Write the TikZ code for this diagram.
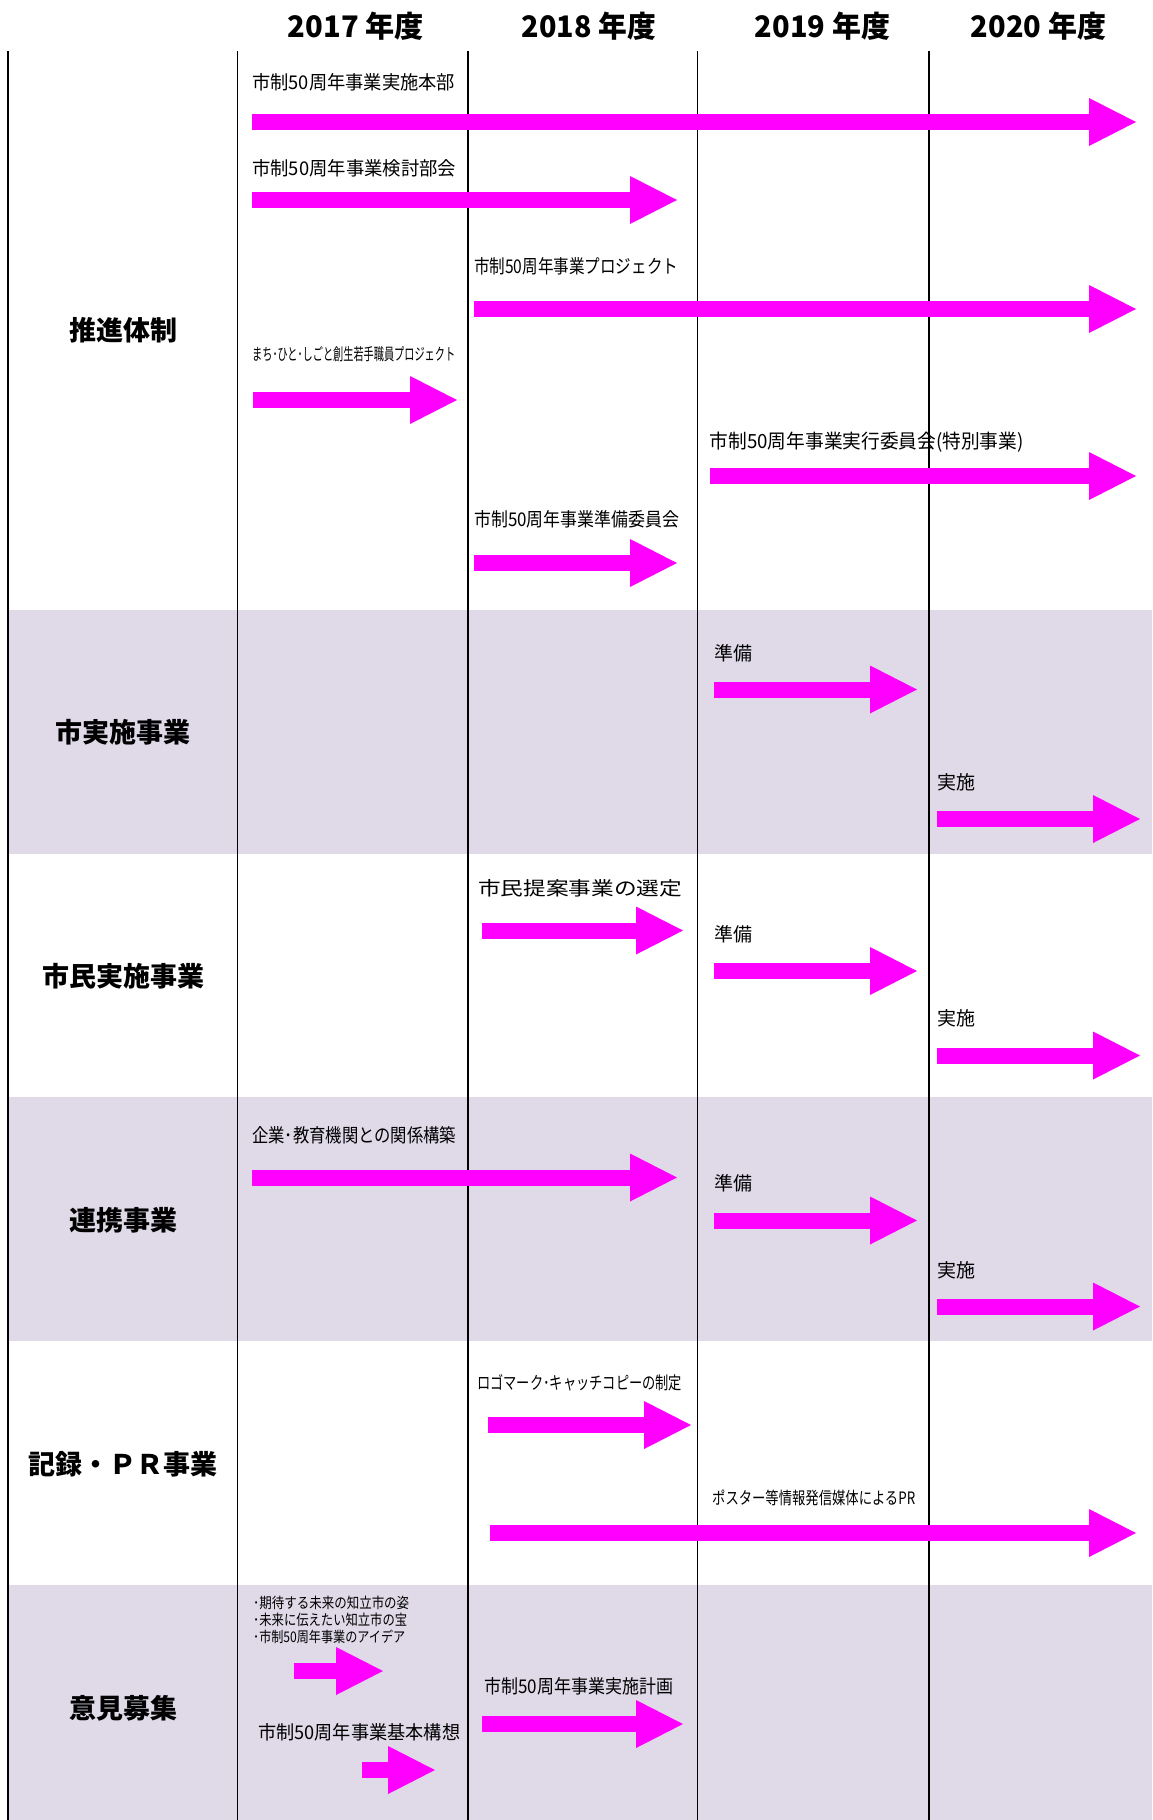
\documentclass[tikz,border=0pt]{standalone}
\usepackage{fontspec}
\usepackage{graphicx}
\usetikzlibrary{arrows.meta}
\newfontfamily\jp{Noto Sans CJK JP}
\definecolor{bandcol}{RGB}{223,217,232}
\definecolor{mag}{RGB}{255,0,255}
\newcommand{\jfit}[3]{\resizebox{#1pt}{#2pt}{#3}}
\tikzset{
  tl/.style={line width=16pt, draw=mag, -{Triangle[width=48pt,length=47pt,line width=0pt]}},
  lbl/.style={anchor=west, inner sep=0pt, font=\jp},
  cat/.style={inner sep=0pt, font=\jp\bfseries\fontsize{27}{30}\selectfont},
  yr/.style={inner sep=0pt, font=\jp\bfseries},
  sepline/.style={line width=1.8pt, draw=black},
  band/.style={fill=bandcol, draw=none}
}
\begin{document}
\begin{tikzpicture}[x=1pt,y=-1pt]
\useasboundingbox (0,0) rectangle (1152,1820);
% shaded bands
\fill[band] (8,610) rectangle (1152,853.5);
\fill[band] (8,1097) rectangle (1152,1341);
\fill[band] (8,1585) rectangle (1152,1820);
% column lines
\foreach \xx in {8,237.5,468,697.5,929}{\draw[sepline] (\xx,51) -- (\xx,1820);}
% years
\node[yr] (y2017) at (356,26.5) {\jfit{136}{25.5}{2017 年度}};
\node[yr] (y2018) at (589,26.5) {\jfit{134}{25.5}{2018 年度}};
\node[yr] (y2019) at (822.5,26.5) {\jfit{135}{25.5}{2019 年度}};
\node[yr] (y2020) at (1038.5,26.5) {\jfit{135}{25.5}{2020 年度}};
% categories
\node[cat] (c1) at (123,330.5) {推進体制};
\node[cat] (c2) at (123,732) {市実施事業};
\node[cat] (c3) at (123,976) {市民実施事業};
\node[cat] (c4) at (123,1220) {連携事業};
\node[cat] (c5) at (123,1464) {記録・ＰＲ事業};
\node[cat] (c6) at (123,1708) {意見募集};
% labels
\node[lbl] (l1) at (252,82.5) {\jfit{203}{16}{市制50周年事業実施本部}};
\node[lbl] (l2) at (252,168) {\jfit{204}{16}{市制50周年事業検討部会}};
\node[lbl] (l3) at (474,266) {\jfit{204}{16}{市制50周年事業プロジェクト}};
\node[lbl] (l4) at (252,354) {\jfit{203}{14}{まち･ひと･しごと創生若手職員プロジェクト}};
\node[lbl] (l5) at (709.5,442.5) {\jfit{314}{16.5}{市制50周年事業実行委員会(特別事業)}};
\node[lbl] (l6) at (474,519) {\jfit{205}{16}{市制50周年事業準備委員会}};
\node[lbl] (l7) at (714,653) {\jfit{38}{16}{準備}};
\node[lbl] (l8) at (937,782) {\jfit{38}{16}{実施}};
\node[lbl] (l9) at (478,888.5) {\jfit{204}{16}{市民提案事業の選定}};
\node[lbl] (l10) at (714,934) {\jfit{38}{16}{準備}};
\node[lbl] (l11) at (937,1018.5) {\jfit{38}{16}{実施}};
\node[lbl] (l12) at (252,1135) {\jfit{204}{16}{企業･教育機関との関係構築}};
\node[lbl] (l13) at (714,1183) {\jfit{38}{16}{準備}};
\node[lbl] (l14) at (937,1270) {\jfit{38}{16}{実施}};
\node[lbl] (l15) at (477,1383) {\jfit{205}{15}{ロゴマーク･キャッチコピーの制定}};
\node[lbl] (l16) at (712,1498) {\jfit{203}{14.5}{ポスター等情報発信媒体によるPR}};
\node[lbl] (l17a) at (253,1603) {\jfit{156}{12.5}{･期待する未来の知立市の姿}};
\node[lbl] (l17b) at (253,1620) {\jfit{154}{12.5}{･未来に伝えたい知立市の宝}};
\node[lbl] (l17c) at (253,1637) {\jfit{152}{12.5}{･市制50周年事業のアイデア}};
\node[lbl] (l18) at (258,1732) {\jfit{202}{16}{市制50周年事業基本構想}};
\node[lbl] (l19) at (484,1686) {\jfit{189}{16}{市制50周年事業実施計画}};
% arrow end points
\coordinate (a1s) at (252,122);    \coordinate (a1e) at (1136,122);
\coordinate (a2s) at (252,200);    \coordinate (a2e) at (677,200);
\coordinate (a3s) at (474,309);    \coordinate (a3e) at (1136,309);
\coordinate (a4s) at (253,400);    \coordinate (a4e) at (457,400);
\coordinate (a5s) at (709.5,476);  \coordinate (a5e) at (1136,476);
\coordinate (a6s) at (474,563);    \coordinate (a6e) at (677,563);
\coordinate (a7s) at (714,689.5);  \coordinate (a7e) at (917,689.5);
\coordinate (a8s) at (937,819);    \coordinate (a8e) at (1140,819);
\coordinate (a9s) at (482,930.5);  \coordinate (a9e) at (683,930.5);
\coordinate (a10s) at (714,971);   \coordinate (a10e) at (917,971);
\coordinate (a11s) at (937,1055.5);\coordinate (a11e) at (1140,1055.5);
\coordinate (a12s) at (252,1177.5);\coordinate (a12e) at (677,1177.5);
\coordinate (a13s) at (714,1220.5);\coordinate (a13e) at (917,1220.5);
\coordinate (a14s) at (937,1306.5);\coordinate (a14e) at (1140,1306.5);
\coordinate (a15s) at (488,1425);  \coordinate (a15e) at (691,1425);
\coordinate (a16s) at (490,1533);  \coordinate (a16e) at (1136,1533);
\coordinate (a17s) at (294,1671);  \coordinate (a17e) at (383,1671);
\coordinate (a18s) at (362,1770);  \coordinate (a18e) at (435,1770);
\coordinate (a19s) at (482,1724);  \coordinate (a19e) at (683,1724);
\foreach \i in {1,...,19}{\draw[tl] (a\i s) -- (a\i e);}
\end{tikzpicture}
\end{document}
